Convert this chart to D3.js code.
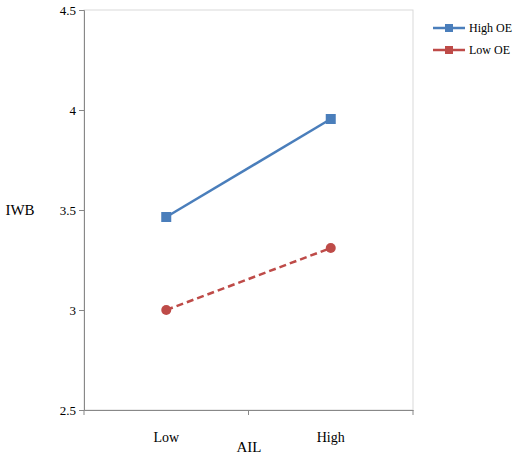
<!DOCTYPE html>
<html><head><meta charset="utf-8">
<script src="https://cdn.jsdelivr.net/npm/d3@7"></script>
<style>body{margin:0;background:#fff}text{font-family:"Liberation Serif",serif}</style>
</head><body><svg id="c" width="520" height="456"></svg>
<script>
const categories = ["Low", "High"];
const highOE = [3.465, 3.955];
const lowOE = [3.0, 3.31];
const yTicks = [2.5, 3, 3.5, 4, 4.5];
const seriesNames = ["High OE", "Low OE"];

const svg = d3.select("#c");
const L = 84, R = 413, T = 10, B = 410;
const x = d3.scaleBand().domain(categories).range([L, R]);
const y = d3.scaleLinear().domain([2.5, 4.5]).range([B, T]);

svg.append("rect").attr("x", L).attr("y", T).attr("width", R - L).attr("height", B - T)
  .attr("fill", "none").attr("stroke", "#d9d9d9");

const ya = svg.append("g").attr("transform", `translate(${L},0)`)
  .call(d3.axisLeft(y).tickValues(yTicks).tickFormat(d3.format("")).tickSize(5));
ya.select(".domain").attr("stroke", "#888");
ya.selectAll(".tick line").attr("stroke", "#888");
ya.selectAll("text").attr("font-size", 13).attr("fill", "#000").attr("font-family", "Liberation Serif");

const xa = svg.append("g").attr("transform", `translate(0,${B})`)
  .call(d3.axisBottom(x).tickSize(0).tickPadding(22));
xa.select(".domain").attr("stroke", "#888");
xa.selectAll("text").attr("font-size", 14).attr("fill", "#000").attr("font-family", "Liberation Serif");
// boundary ticks
svg.append("g").selectAll("line").data([L, (L + R) / 2, R]).join("line")
  .attr("x1", d => d).attr("x2", d => d).attr("y1", B).attr("y2", B + 5).attr("stroke", "#888");

svg.append("text").attr("x", 20).attr("y", 215).attr("text-anchor", "middle").attr("font-size", 15).text("IWB");
svg.append("text").attr("x", 249).attr("y", 452).attr("text-anchor", "middle").attr("font-size", 15).text("AIL");

const cx = d => x(d) + x.bandwidth() / 2;
const line = d3.line().x((d, i) => cx(categories[i])).y(d => y(d));

svg.append("path").datum(highOE).attr("d", line).attr("fill", "none").attr("stroke", "#4a7ebb").attr("stroke-width", 2.5);
svg.selectAll(".sq").data(highOE).join("rect")
  .attr("x", (d, i) => cx(categories[i]) - 5).attr("y", d => y(d) - 5).attr("width", 10).attr("height", 10).attr("fill", "#4a7ebb");

svg.append("path").datum(lowOE).attr("d", line).attr("fill", "none").attr("stroke", "#be4b48").attr("stroke-width", 2.5).attr("stroke-dasharray", "7,4");
svg.selectAll(".ci").data(lowOE).join("circle")
  .attr("cx", (d, i) => cx(categories[i])).attr("cy", d => y(d)).attr("r", 5).attr("fill", "#be4b48");

const colors = ["#4a7ebb", "#be4b48"];
const lg = svg.append("g").selectAll("g").data(seriesNames).join("g")
  .attr("transform", (d, i) => `translate(433,${28 + i * 22})`);
lg.append("line").attr("x1", 0).attr("x2", 32).attr("stroke", (d, i) => colors[i]).attr("stroke-width", 2.5);
lg.append("rect").attr("x", 12).attr("y", -4).attr("width", 8).attr("height", 8).attr("fill", (d, i) => colors[i]);
lg.append("text").attr("x", 36).attr("y", 4).attr("font-size", 12).text(d => d);
</script></body></html>
